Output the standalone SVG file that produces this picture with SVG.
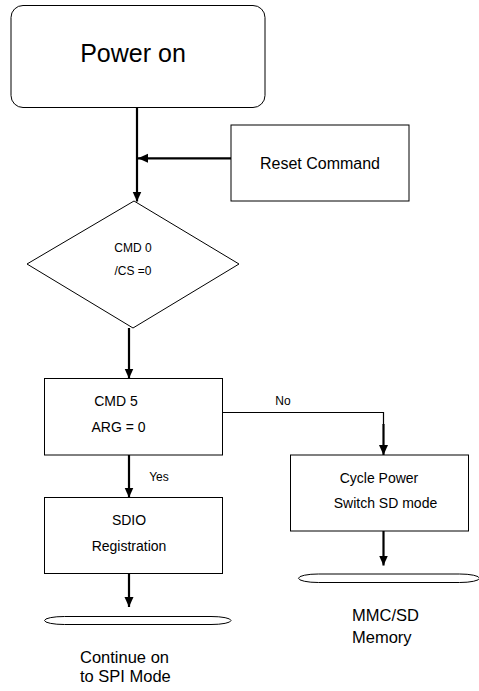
<svg xmlns="http://www.w3.org/2000/svg" width="479" height="691" viewBox="0 0 479 691">
<style>
.box{fill:#fff;stroke:#000;stroke-width:1}
.t{font-family:"Liberation Sans",Arial,sans-serif;fill:#000}
.c{text-anchor:middle}
.conn{fill:none;stroke:#000;stroke-width:2.2}
.thin{fill:none;stroke:#000;stroke-width:1.2}
</style>
<defs>
<marker id="ah" markerUnits="userSpaceOnUse" markerWidth="10" markerHeight="10" viewBox="0 0 10 10" refX="10" refY="5" orient="auto">
<path d="M0,0.5 L10,5 L0,9.5 Z" fill="#000"/>
</marker>
</defs>
<rect width="479" height="691" fill="#fff"/>
<g id="power-on">
<rect class="box" x="11" y="5.5" width="254" height="102" rx="12" ry="12"/>
<text class="t c" x="133" y="61.5" font-size="25">Power on</text>
</g>
<g id="reset-command">
<rect class="box" x="231" y="125" width="178" height="76"/>
<text class="t c" x="320" y="169" font-size="16">Reset Command</text>
</g>
<g id="cmd0">
<polygon class="box" points="134,201 239,264 133,328 27,264"/>
<text class="t c" x="133" y="252" font-size="12">CMD 0</text>
<text class="t c" x="133" y="275" font-size="12">/CS =0</text>
</g>
<g id="cmd5">
<rect class="box" x="44.5" y="378.5" width="178" height="76.5"/>
<text class="t c" x="116" y="406" font-size="14">CMD 5</text>
<text class="t c" x="118.5" y="432" font-size="14">ARG = 0</text>
</g>
<g id="cycle-power">
<rect class="box" x="290.5" y="455" width="178" height="76"/>
<text class="t c" x="379" y="483" font-size="14">Cycle Power</text>
<text class="t c" x="385.5" y="508" font-size="14">Switch SD mode</text>
</g>
<g id="sdio">
<rect class="box" x="44.5" y="497.5" width="178" height="76"/>
<text class="t c" x="129" y="525" font-size="14">SDIO</text>
<text class="t c" x="129" y="551" font-size="14">Registration</text>
</g>
<g id="mmc-sd">
<rect class="box" x="298.5" y="574" width="181" height="8.5" rx="20" ry="4.25"/>
<text class="t" x="352" y="621" font-size="16.5">MMC/SD</text>
<text class="t" x="352" y="643" font-size="16.5">Memory</text>
</g>
<g id="spi-mode">
<rect class="box" x="44.5" y="616.5" width="186.5" height="8" rx="20" ry="4"/>
<text class="t" x="80" y="663" font-size="16.5">Continue on</text>
<text class="t" x="80" y="682" font-size="16.5">to SPI Mode</text>
</g>
<g id="connectors">
<path class="conn" d="M137,107.5 V201.5" marker-end="url(#ah)"/>
<path class="conn" d="M231,158.3 H138" marker-end="url(#ah)"/>
<path class="conn" d="M129,328 V378.5" marker-end="url(#ah)"/>
<path class="thin" d="M222.5,412.5 H383.5 V425"/>
<path class="conn" d="M383.5,424 V455" marker-end="url(#ah)"/>
<text class="t c" x="283" y="405" font-size="12">No</text>
<path class="conn" d="M129,455 V497.5" marker-end="url(#ah)"/>
<text class="t c" x="159" y="480.5" font-size="12">Yes</text>
<path class="conn" d="M129,573.5 V607" marker-end="url(#ah)"/>
<path class="conn" d="M383.5,531 V565.5" marker-end="url(#ah)"/>
</g>
</svg>
